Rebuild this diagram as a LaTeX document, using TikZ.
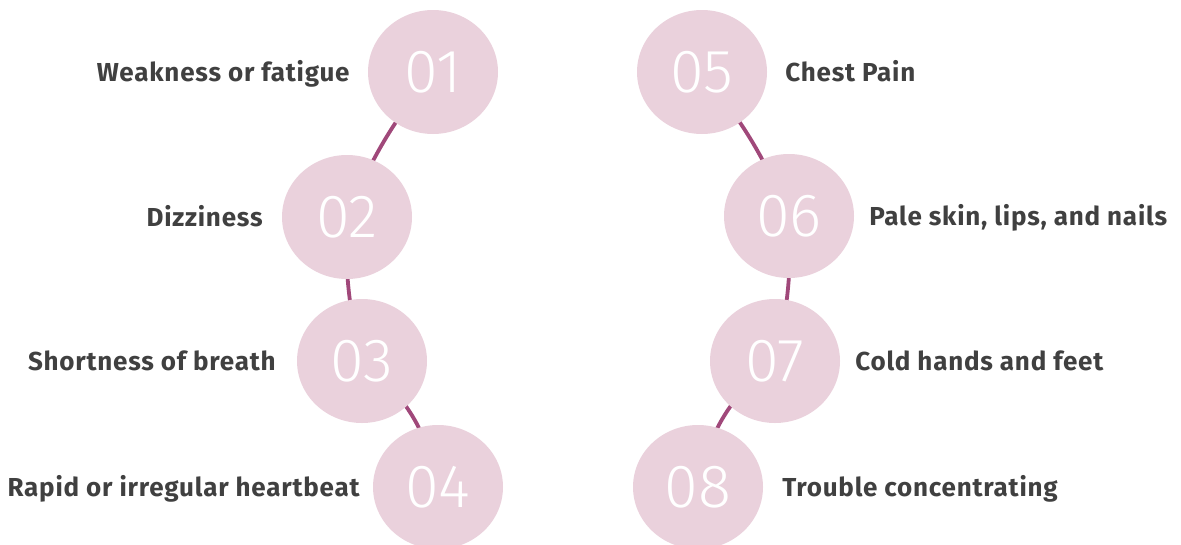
\documentclass[tikz,border=0pt]{standalone}
\usepackage{fontspec}
\setmainfont{Fira Sans}
\newfontfamily\numfont{Fira Sans Light}
\usetikzlibrary{shapes.geometric}
\definecolor{bubble}{HTML}{EAD1DC}
\definecolor{link}{HTML}{A0487A}
\definecolor{ink}{HTML}{404040}
\tikzset{
  bubble/.style={ellipse, fill=bubble, minimum width=130pt, minimum height=124pt,
    inner sep=0pt, text=white, font=\numfont\fontsize{61}{61}\selectfont},
  lbl/.style={inner sep=0pt, text=ink,
    font=\bfseries\fontsize{26}{26}\selectfont\addfontfeature{LetterSpace=3}},
  link/.style={draw=link, line width=3.8pt}
}
\begin{document}
\begin{tikzpicture}[x=1pt, y=-1pt]
\useasboundingbox (0,0) rectangle (1181,544);
% anchor points of the two chains
\coordinate (p1) at (433,72);
\coordinate (p2) at (347,217);
\coordinate (p3) at (362,361);
\coordinate (p4) at (438,487);
\coordinate (p5) at (702,72);
\coordinate (p6) at (789,216);
\coordinate (p7) at (775,361);
\coordinate (p8) at (698,487);
% connecting curves, drawn under the bubbles
\draw[link] (p1) to[bend right=8] (p2);
\draw[link] (p2) to[bend right=8] (p3);
\draw[link] (p3) to[bend left=20] (p4);
\draw[link] (p5) to[bend left=8] (p6);
\draw[link] (p6) to[bend left=8] (p7);
\draw[link] (p7) to[bend right=20] (p8);
% numbered bubbles
\node[bubble] (c1) at (p1) {01};
\node[bubble] (c2) at (p2) {02};
\node[bubble] (c3) at (p3) {03};
\node[bubble] (c4) at (p4) {04};
\node[bubble] (c5) at (p5) {05};
\node[bubble] (c6) at (p6) {06};
\node[bubble] (c7) at (p7) {07};
\node[bubble] (c8) at (p8) {08};
% labels, left chain
\node[lbl, anchor=base east] (t1) at ([xshift=-18pt, yshift=-9pt]c1.west) {Weakness or fatigue};
\node[lbl, anchor=base east] (t2) at ([xshift=-19pt, yshift=-9pt]c2.west) {Dizziness};
\node[lbl, anchor=base east] (t3) at ([xshift=-21pt, yshift=-9pt]c3.west) {Shortness of breath};
\node[lbl, anchor=base east] (t4) at ([xshift=-13pt, yshift=-9pt]c4.west) {Rapid or irregular heartbeat};
% labels, right chain
\node[lbl, anchor=base west] (t5) at ([xshift=18pt, yshift=-9pt]c5.east) {Chest Pain};
\node[lbl, anchor=base west] (t6) at ([xshift=15pt, yshift=-9pt]c6.east) {Pale skin, lips, and nails};
\node[lbl, anchor=base west] (t7) at ([xshift=15pt, yshift=-9pt]c7.east) {Cold hands and feet};
\node[lbl, anchor=base west] (t8) at ([xshift=19pt, yshift=-9pt]c8.east) {Trouble concentrating};
\end{tikzpicture}
\end{document}
